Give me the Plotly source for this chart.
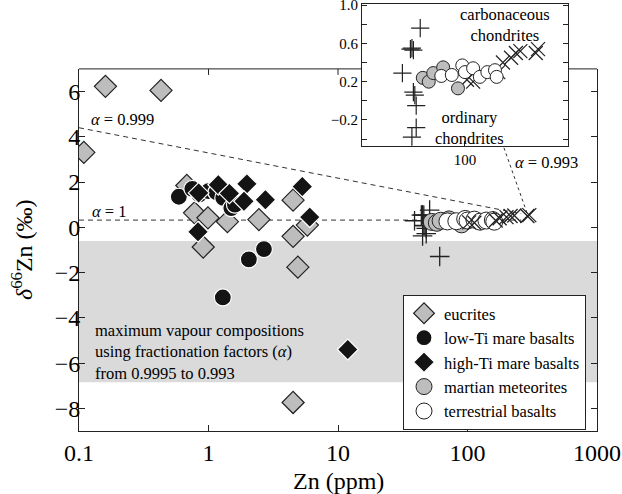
import math
import plotly.graph_objects as go

# ---------------- data ----------------
eucrite_zn = [0.16, 0.43, 0.109, 0.68, 0.78, 0.99, 0.91, 1.40, 2.45, 4.5, 4.5, 4.9, 5.8, 4.5]
eucrite_d66 = [6.23, 6.05, 3.31, 1.85, 0.64, 0.42, -0.87, 0.25, 0.34, 1.2, -0.4, -1.76, 0.1, -7.74]

lowti_zn = [0.59, 0.75, 0.85, 1.0, 1.15, 1.3, 1.5, 1.6, 2.05, 2.68, 1.29]
lowti_d66 = [1.35, 1.7, 1.45, 1.6, 1.55, 1.3, 0.85, 1.0, -1.42, -0.96, -3.1]

highti_zn = [0.84, 1.19, 1.45, 1.98, 1.88, 2.75, 5.3, 6.05, 0.83, 11.9]
highti_d66 = [1.52, 1.88, 1.5, 1.92, 1.15, 1.22, 1.8, 0.45, -0.2, -5.4]

martian_zn = [53, 58, 62, 72, 90]
martian_d66 = [0.24, 0.2, 0.29, 0.35, 0.13]

terr_zn = [70, 82, 96, 100, 113, 125, 140, 157, 161]
terr_d66 = [0.26, 0.27, 0.37, 0.3, 0.34, 0.25, 0.3, 0.32, 0.25]

ord_zn = [51, 44, 45, 46, 39, 46, 47, 48, 48, 45, 61]
ord_d66 = [0.76, 0.54, 0.55, 0.53, 0.29, 0.09, 0.06, -0.05, -0.28, -0.38, -1.29]

carb_zn = [103, 113, 165, 177, 200, 215, 230, 290, 300]
carb_d66 = [0.22, 0.2, 0.3, 0.40, 0.45, 0.50, 0.52, 0.50, 0.54]

# fractionation lines
a1_zn = [0.1, 260]
a1_d66 = [0.32, 0.32]
a0999_zn = [0.1, 260]
a0999_d66 = [4.4, 0.6]
a0993_zn = [288, 191]
a0993_d66 = [0.64, 3.52]

band_d66 = [-6.85, -0.6]

x_ticks = [0.1, 1, 10, 100, 1000]
x_ticktext = ["0.1", "1", "10", "100", "1000"]
y_ticks = [-8, -6, -4, -2, 0, 2, 4, 6]
y_ticktext = ["−8", "−6", "−4", "−2", "0", "2", "4", "6"]
inset_yticks = [-0.2, 0.2, 0.6, 1.0]
inset_yticktext = ["−0.2", "0.2", "0.6", "1.0"]
inset_yminor = [-0.4, 0.0, 0.4, 0.8]

# ---------------- figure ----------------
FONT = "Liberation Serif"
INK = "#222222"
W, H = 622, 494
ML, MR, MT, MB = 79, 25, 4, 63
main_ytop = 0.848
inset_x = [0.5463, 0.944]
inset_y = [0.668, 1.0]

fig = go.Figure()

def add(x, y, name, symbol, size, fill, lcol, lw, xa="x", ya="y", legend=False):
    fig.add_trace(go.Scatter(
        x=x, y=y, mode="markers", name=name, showlegend=legend,
        xaxis=xa, yaxis=ya, hoverinfo="skip",
        marker=dict(symbol=symbol, size=size, color=fill,
                    line=dict(color=lcol, width=lw))))

# lines
for xs, ys, dash in [(a1_zn, a1_d66, "5px,4px"), (a0999_zn, a0999_d66, "5px,4px"),
                     (a0993_zn, a0993_d66, "3px,3px")]:
    fig.add_trace(go.Scatter(x=xs, y=ys, mode="lines", showlegend=False, hoverinfo="skip",
                             line=dict(color="#333333", width=1, dash=dash)))

# main markers
add(eucrite_zn, eucrite_d66, "eucrites", "diamond", 17, "#bdbdbd", INK, 1.2, legend=True)
add(lowti_zn, lowti_d66, "low-Ti mare basalts", "circle", 17, "#141414", "white", 1.2, legend=True)
add(highti_zn, highti_d66, "high-Ti mare basalts", "diamond", 16, "#141414", "white", 1.2, legend=True)
add(ord_zn, ord_d66, "ordinary chondrites", "cross-thin", 14, INK, INK, 1.3)
add(martian_zn, martian_d66, "martian meteorites", "circle", 17, "#bdbdbd", INK, 1.0, legend=True)
add(terr_zn, terr_d66, "terrestrial basalts", "circle", 17, "white", INK, 1.0, legend=True)
add(carb_zn, carb_d66, "carbonaceous chondrites", "x-thin", 14, INK, INK, 1.3)

# inset markers
add(ord_zn, ord_d66, "", "cross-thin", 13, INK, INK, 1.2, "x2", "y2")
add(carb_zn, carb_d66, "", "x-thin", 14, INK, INK, 1.2, "x2", "y2")
add(martian_zn, martian_d66, "", "circle", 13, "#bdbdbd", INK, 1.0, "x2", "y2")
add(terr_zn, terr_d66, "", "circle", 13, "white", INK, 1.0, "x2", "y2")

tickfont = dict(family=FONT, size=24, color="black")
small = dict(family=FONT, size=15, color="black")
fig.update_layout(
    width=W, height=H, margin=dict(l=ML, r=MR, t=MT, b=MB),
    paper_bgcolor="white", plot_bgcolor="white",
    font=dict(family=FONT, color="black"),
    xaxis=dict(type="log", range=[-1, 3], domain=[0, 1], anchor="y", automargin=False,
               tickvals=x_ticks, ticktext=x_ticktext, ticks="inside", ticklen=6,
               tickcolor=INK, showline=True, linecolor=INK, linewidth=1, mirror=False,
               showgrid=False, zeroline=False, tickfont=tickfont),
    yaxis=dict(range=[-9, 7], domain=[0, main_ytop], anchor="x", automargin=False,
               tickvals=y_ticks, ticktext=y_ticktext, ticks="inside", ticklen=6,
               tickcolor=INK, showline=True, linecolor=INK, linewidth=1, mirror="ticks",
               ticklabelstandoff=-7,
               showgrid=False, zeroline=False, tickfont=tickfont),
    xaxis2=dict(type="log", range=[1.327, 2.673], domain=inset_x, anchor="y2", automargin=False,
                tickvals=[100], ticktext=["100"], ticks="inside", ticklen=5,
                tickcolor=INK, showline=True, linecolor=INK, linewidth=1, mirror=True,
                showgrid=False, zeroline=False, tickfont=small),
    yaxis2=dict(range=[-0.47, 1.012], domain=inset_y, anchor="x2", automargin=False,
                tickvals=inset_yticks, ticktext=inset_yticktext, ticks="inside", ticklen=5,
                tickcolor=INK, showline=True, linecolor=INK, linewidth=1, mirror="ticks",
                minor=dict(tickvals=inset_yminor, ticks="inside", ticklen=5, tickcolor=INK),
                ticklabeloverflow="allow",
                showgrid=False, zeroline=False, tickfont=small),
    legend=dict(x=0.6255, y=0.3185, xanchor="left", yanchor="top",
                bgcolor="white", bordercolor=INK, borderwidth=1,
                font=dict(family=FONT, size=16.5, color="black")),
)

# grey band of vapour compositions
fig.add_shape(type="rect", xref="x domain", yref="y", x0=0, x1=1,
              y0=band_d66[0], y1=band_d66[1], fillcolor="#dadadb",
              line=dict(width=0), layer="below")

# top frame of main plot (interrupted by the inset)
fig.add_shape(type="line", xref="paper", yref="paper", x0=0, x1=inset_x[0],
              y0=main_ytop, y1=main_ytop, line=dict(color=INK, width=1))
fig.add_shape(type="line", xref="paper", yref="paper", x0=inset_x[1], x1=1,
              y0=main_ytop, y1=main_ytop, line=dict(color=INK, width=1))
plot_h = H - MT - MB
for v in x_ticks:
    frac = (math.log10(v) + 1) / 4
    if frac <= 0 or frac >= 1 or inset_x[0] <= frac <= inset_x[1]:
        continue
    fig.add_shape(type="line", xref="x", yref="paper", x0=v, x1=v,
                  y0=main_ytop, y1=main_ytop - 6 / plot_h, line=dict(color=INK, width=1))

ann = dict(font=dict(family=FONT, size=16.5, color="black"), showarrow=False)
fig.add_annotation(text="<i>α</i> = 0.999", xref="x domain", yref="y", x=0.0193, y=4.75,
                   xanchor="left", yanchor="middle", **ann)
fig.add_annotation(text="<i>α</i> = 1", xref="x domain", yref="y", x=0.021, y=0.69,
                   xanchor="left", yanchor="middle", **ann)
fig.add_annotation(text="<i>α</i> = 0.993", xref="x domain", yref="y", x=0.838, y=2.86,
                   xanchor="left", yanchor="middle", **ann)
fig.add_annotation(text="maximum vapour compositions<br>using fractionation factors (<i>α</i>)<br>from 0.9995 to 0.993",
                   xref="x domain", yref="y", x=0.027, y=-5.49, xanchor="left",
                   yanchor="middle", align="left", **ann)
fig.add_annotation(text="carbonaceous<br>chondrites", xref="x2 domain", yref="y2",
                   x=0.694, y=0.79, xanchor="center", yanchor="middle", **ann)
fig.add_annotation(text="ordinary<br>chondrites", xref="x2 domain", yref="y2",
                   x=0.524, y=-0.28, xanchor="center", yanchor="middle", **ann)

# axis titles
fig.add_annotation(text="<i>δ</i><sup>66</sup>Zn (‰)", xref="paper", yref="paper",
                   x=(22 - ML) / (W - ML - MR), y=(431 - 250) / plot_h, textangle=-90,
                   xanchor="center", yanchor="middle", showarrow=False,
                   font=dict(family=FONT, size=24, color="black"))
fig.add_annotation(text="Zn (ppm)", xref="paper", yref="paper", x=0.5,
                   y=(431 - 481) / plot_h, xanchor="center", yanchor="middle",
                   showarrow=False, font=dict(family=FONT, size=24, color="black"))

fig.write_html("out.html", config={"displayModeBar": False},
               post_script="document.body.style.margin='0';")
